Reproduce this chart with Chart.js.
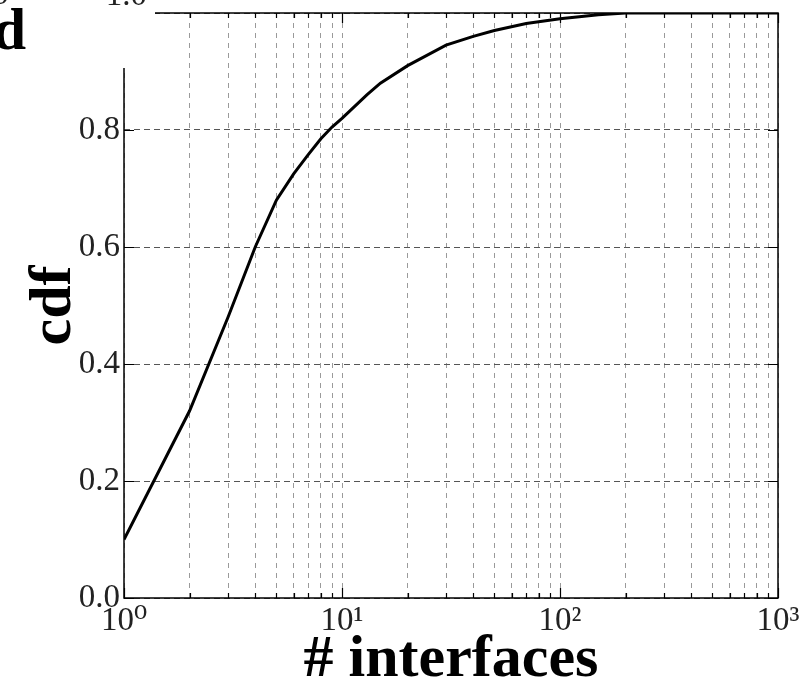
<!DOCTYPE html>
<html>
<head>
<meta charset="utf-8">
<script src="https://cdn.jsdelivr.net/npm/chart.js@4"></script>
<style>
  body { margin: 0; background: #fff; }
  canvas { display: block; }
</style>
</head>
<body>
<canvas id="grafico" width="807" height="683"></canvas>
<script>
// numero de interfaces (eje log) y cdf
const interfaces = [1, 2, 3, 4, 5, 6, 7, 8, 9, 10, 13, 15, 20, 30, 40, 50, 70, 100, 150, 200, 1000];
const cdf = [0.10, 0.32, 0.48, 0.60, 0.68, 0.725, 0.758, 0.785, 0.805, 0.82, 0.86, 0.88, 0.91, 0.945, 0.96, 0.97, 0.982, 0.99, 0.997, 1.0, 1.0];

const decadas = [1, 10, 100];
const etiquetasX = { 1: '10⁰', 10: '10¹', 100: '10²', 1000: '10³' };
const ticksY = [0, 0.2, 0.4, 0.6, 0.8, 1.0];

const ticksX = [];
decadas.forEach(d => { for (let k = 1; k < 10; k++) ticksX.push(d * k); });
ticksX.push(1000);

const serif = '"Liberation Serif", "DejaVu Serif", serif';

// marco completo, ticks hacia adentro y el recorte de la esquina
const marco = {
  id: 'marco',
  afterDraw(chart) {
    const { ctx, chartArea: a, scales } = chart;
    ctx.save();
    ctx.strokeStyle = '#000';
    ctx.lineWidth = 1.2;
    ticksX.forEach(v => {
      const px = Math.round(scales.x.getPixelForValue(v)) + 0.5;
      const largo = etiquetasX[v] ? 10 : 5;
      ctx.beginPath();
      ctx.moveTo(px, a.bottom); ctx.lineTo(px, a.bottom - largo);
      ctx.moveTo(px, a.top); ctx.lineTo(px, a.top + largo);
      ctx.stroke();
    });
    ticksY.forEach(v => {
      const py = Math.round(scales.y.getPixelForValue(v)) + 0.5;
      ctx.beginPath();
      ctx.moveTo(a.left, py); ctx.lineTo(a.left + 10, py);
      ctx.moveTo(a.right, py); ctx.lineTo(a.right - 10, py);
      ctx.stroke();
    });
    ctx.lineWidth = 1.5;
    ctx.strokeRect(a.left, a.top, a.right - a.left, a.bottom - a.top);

    // esquina superior izquierda tapada por otra figura
    ctx.fillStyle = '#fff';
    ctx.fillRect(0, 0, 155, 68);
    ctx.fillStyle = '#000';
    ctx.textAlign = 'right';
    ctx.textBaseline = 'alphabetic';
    ctx.font = 'bold 60px ' + serif;
    ctx.fillText('d', 26, 49);
    ctx.font = '33px ' + serif;
    ctx.fillStyle = '#222';
    ctx.fillText('1.0', 147, 5);
    ctx.fillText('1.0', 9, 4);
    ctx.restore();
  }
};

new Chart(document.getElementById('grafico'), {
  type: 'line',
  data: {
    datasets: [
      {
        label: 'cdf',
        data: interfaces.map((x, i) => ({ x: x, y: cdf[i] })),
        borderColor: '#000',
        borderWidth: 3,
        pointRadius: 0,
        tension: 0,
        fill: false
      }
    ]
  },
  options: {
    responsive: false,
    animation: false,
    devicePixelRatio: 1,
    layout: { padding: { top: 13, right: 29, left: 0, bottom: 0 } },
    plugins: {
      legend: { display: false },
      tooltip: { enabled: false }
    },
    scales: {
      x: {
        type: 'logarithmic',
        min: 1,
        max: 1000,
        afterBuildTicks: s => { s.ticks = ticksX.map(v => ({ value: v, major: !!etiquetasX[v] })); },
        afterFit: s => { s.height = 85; s.paddingLeft = 0; s.paddingRight = 0; },
        grid: {
          drawTicks: false,
          color: '#9a9a9a',
          lineWidth: 1
        },
        border: { display: false, dash: [5, 5] },
        ticks: {
          autoSkip: false,
          maxRotation: 0,
          padding: 4,
          color: '#222',
          font: { family: serif, size: 33 },
          callback: v => etiquetasX[v] || ''
        },
        title: {
          display: true,
          text: '# interfaces',
          color: '#000',
          padding: { top: 0, bottom: -13 },
          font: { family: serif, size: 60, weight: 'bold' }
        }
      },
      y: {
        min: 0,
        max: 1,
        afterBuildTicks: s => { s.ticks = ticksY.map(v => ({ value: v })); },
        afterFit: s => { s.width = 124; s.paddingTop = 0; s.paddingBottom = 0; },
        grid: {
          drawTicks: false,
          color: '#555',
          lineWidth: 1
        },
        border: { display: false, dash: [6, 4] },
        ticks: {
          padding: 4,
          color: '#222',
          font: { family: serif, size: 33 },
          callback: v => v.toFixed(1)
        },
        title: {
          display: true,
          text: 'cdf',
          color: '#000',
          padding: { top: 18, bottom: 0 },
          font: { family: serif, size: 60, weight: 'bold' }
        }
      }
    }
  },
  plugins: [marco]
});
</script>
</body>
</html>
